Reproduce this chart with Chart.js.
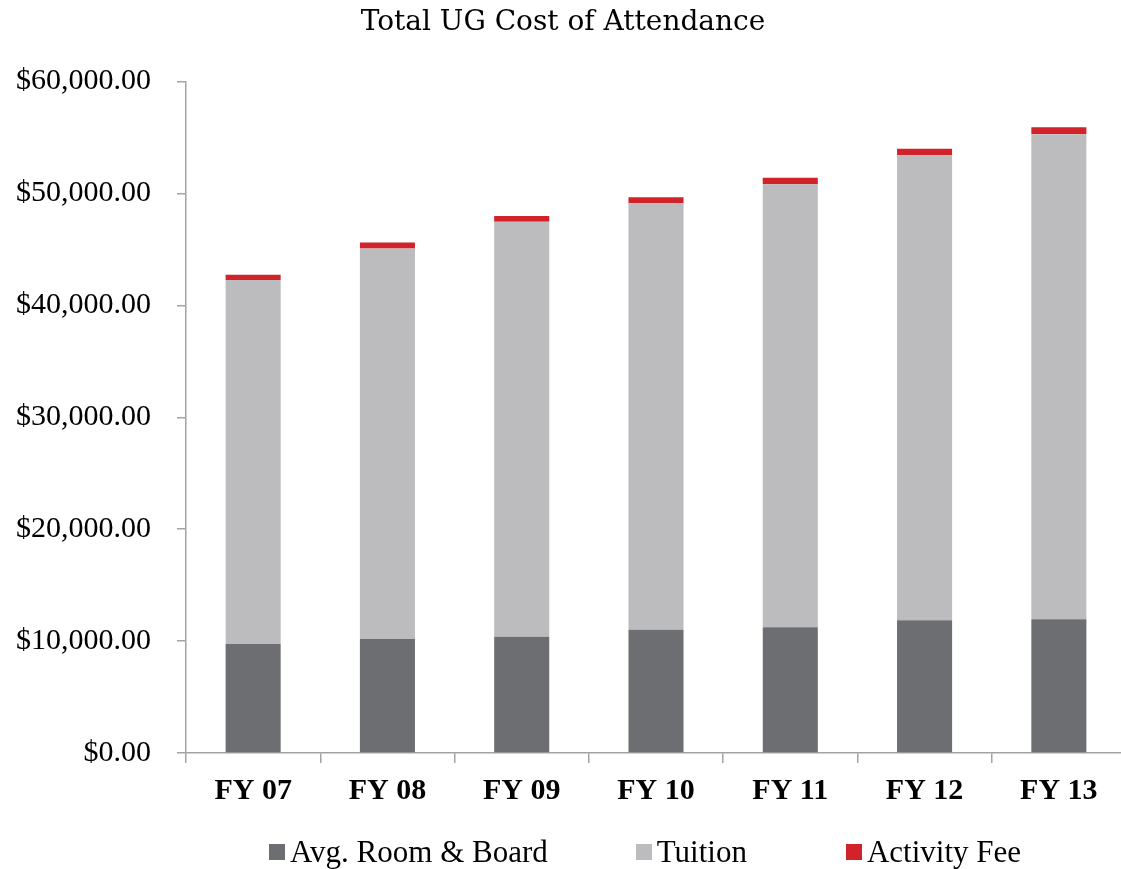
<!DOCTYPE html>
<html>
<head>
<meta charset="utf-8">
<script src="https://cdn.jsdelivr.net/npm/chart.js@4"></script>
<style>
  html, body { margin: 0; padding: 0; background: #fff; overflow: hidden; }
  .wrap { position: relative; width: 1126px; height: 869px; }
  canvas { display: block; }
  #legend {
    position: absolute; left: 269px; top: 834px; height: 36px;
    display: flex; align-items: center;
    font-family: "Liberation Serif", serif; font-size: 31px; color: #000;
  }
  #legend .item { display: flex; align-items: center; margin-right: 88px; }
  #legend .item:nth-child(2) { margin-right: 99px; }
  #legend .box { width: 16px; height: 16px; margin-right: 5px; }
</style>
</head>
<body>
<div class="wrap">
  <canvas id="chart" width="1126" height="869"></canvas>
  <div id="legend"></div>
</div>
<script>
const years = ["FY 07", "FY 08", "FY 09", "FY 10", "FY 11", "FY 12", "FY 13"];
const roomBoard = [9740, 10190, 10390, 11020, 11230, 11860, 11950];
const tuition = [32530, 34890, 37090, 38100, 39590, 41550, 43340];
const activityFee = [470, 540, 510, 540, 590, 590, 630];

const axisGray = "#A3A3A3";

function money(v){
  return "$" + v.toLocaleString("en-US", { minimumFractionDigits: 2, maximumFractionDigits: 2 });
}

// legend drawn as html so the item spacing can follow the original
const htmlLegend = {
  id: "htmlLegend",
  afterUpdate(chart){
    const box = document.getElementById("legend");
    box.innerHTML = "";
    const items = Chart.defaults.plugins.legend.labels.generateLabels(chart);
    items.forEach(item => {
      const div = document.createElement("div");
      div.className = "item";
      const sq = document.createElement("span");
      sq.className = "box";
      sq.style.background = item.fillStyle;
      const txt = document.createElement("span");
      txt.textContent = item.text;
      div.appendChild(sq);
      div.appendChild(txt);
      box.appendChild(div);
    });
  }
};

const ctx = document.getElementById("chart").getContext("2d");

const chart = new Chart(ctx, {
  type: "bar",
  data: {
    labels: years,
    datasets: [
      { label: "Avg. Room & Board", data: roomBoard, backgroundColor: "#6D6E71" },
      { label: "Tuition", data: tuition, backgroundColor: "#BCBCBE" },
      { label: "Activity Fee", data: activityFee, backgroundColor: "#D2232A" }
    ]
  },
  options: {
    responsive: false,
    animation: false,
    layout: { padding: 0 },
    datasets: {
      bar: { barPercentage: 0.41, categoryPercentage: 1 }
    },
    plugins: {
      title: {
        display: true,
        text: "Total UG Cost of Attendance",
        color: "#000",
        font: { family: "DejaVu Serif", size: 28, weight: "normal", lineHeight: 1.2 },
        padding: { top: 6, bottom: 42 }
      },
      legend: { display: false },
      tooltip: { enabled: false }
    },
    scales: {
      x: {
        stacked: true,
        grid: { display: true, drawOnChartArea: false, offset: true, tickLength: 10, color: axisGray, lineWidth: 1.5 },
        border: { color: axisGray, width: 1.5 },
        ticks: {
          color: "#000",
          padding: 10,
          font: { family: "Liberation Serif", size: 30, weight: "bold" }
        },
        afterFit(scale){ scale.height = 116; }
      },
      y: {
        stacked: true,
        min: 0,
        max: 60000,
        grid: { display: true, drawOnChartArea: false, tickLength: 9, color: axisGray, lineWidth: 1.5 },
        border: { color: axisGray, width: 1.5 },
        ticks: {
          stepSize: 10000,
          color: "#000",
          padding: 26,
          font: { family: "Liberation Serif", size: 30 },
          callback: (v) => money(v)
        },
        afterFit(scale){ scale.width = 186; }
      }
    }
  },
  plugins: [htmlLegend]
});
</script>
</body>
</html>
